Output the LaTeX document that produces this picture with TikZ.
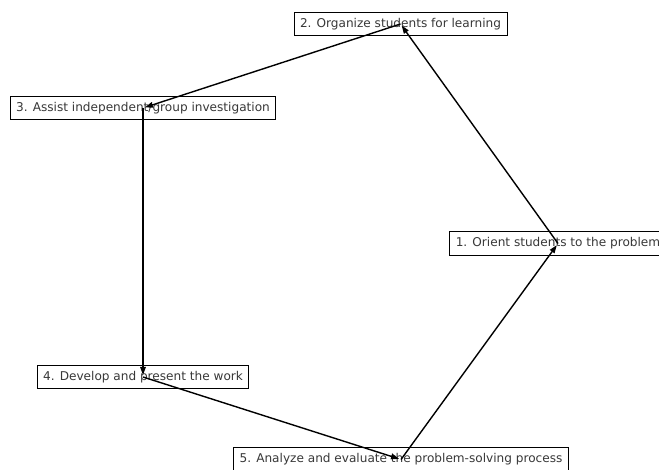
\documentclass[tikz,border=0pt]{standalone}
\usepackage{fontspec}
\setmainfont{DejaVu Sans}
\usetikzlibrary{arrows.meta}

\begin{document}
\begin{tikzpicture}[x=1pt,y=-1pt,
  stage/.style={draw=black,fill=white,text=black!78,line width=0.8pt,inner xsep=6pt,
    text height=9pt,text depth=2.7pt,inner ysep=6pt,font=\fontsize{12.1}{14}\selectfont},
  flow/.style={line width=1.4pt,-{Triangle[length=8pt,width=5.5pt]},shorten >=2pt}]
  \useasboundingbox (0,0) rectangle (659,470);
  \clip (0,0) rectangle (659,470);
  \node[stage] (s1) at (558,243.5) {1. Orient students to the problem};
  \node[stage] (s2) at (400.5,24) {2. Organize students for learning};
  \node[stage] (s3) at (143,108) {3. Assist independent/group investigation};
  \node[stage] (s4) at (143,377) {4. Develop and present the work};
  \node[stage] (s5) at (401,459.5) {5. Analyze and evaluate the problem-solving process};
  % cycle of stages
  \draw[flow] (s1.center) -- (s2.center); \draw[flow] (s2.center) -- (s3.center);
  \draw[flow] (s3.center) -- (s4.center); \draw[flow] (s4.center) -- (s5.center);
  \draw[flow] (s5.center) -- (s1.center);
\end{tikzpicture}
\end{document}
